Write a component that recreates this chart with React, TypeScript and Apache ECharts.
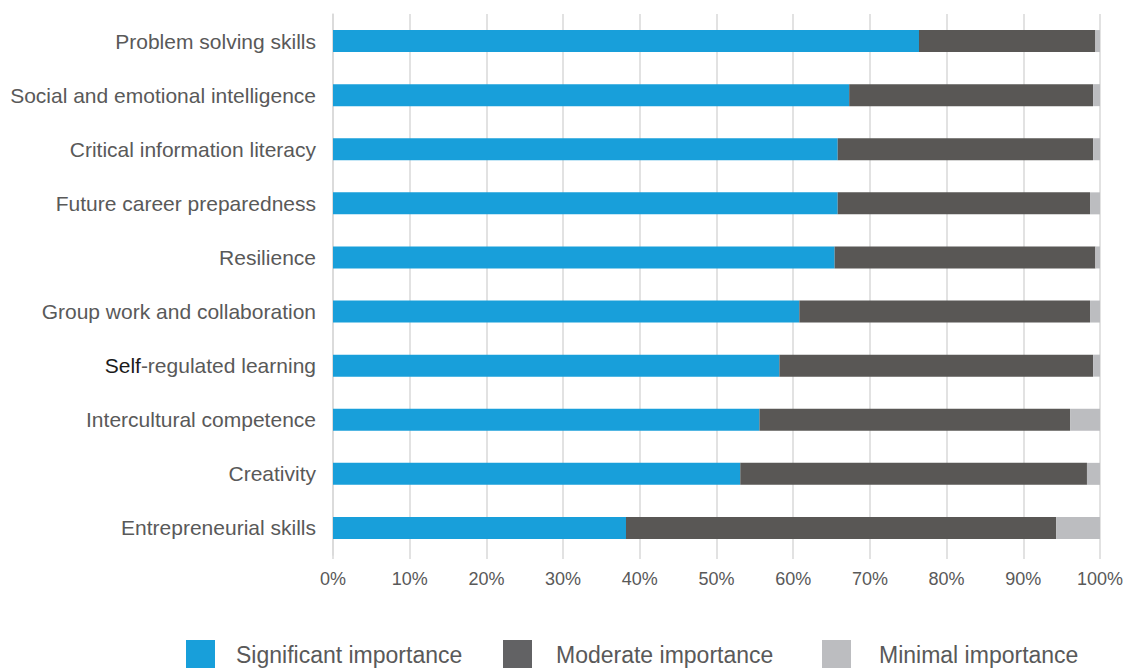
import React, { useEffect, useRef } from "react";
import * as echarts from "echarts";

const categories = [
  "Problem solving skills",
  "Social and emotional intelligence",
  "Critical information literacy",
  "Future career preparedness",
  "Resilience",
  "Group work and collaboration",
  "Self-regulated learning",
  "Intercultural competence",
  "Creativity",
  "Entrepreneurial skills",
];
const significant = [76.4, 67.3, 65.8, 65.8, 65.4, 60.8, 58.2, 55.6, 53.1, 38.2];
const moderate = [23.0, 31.8, 33.3, 32.9, 34.0, 37.9, 40.9, 40.5, 45.2, 56.1];
const minimal = [0.6, 0.9, 0.9, 1.3, 0.6, 1.3, 0.9, 3.9, 1.7, 5.7];
const seriesNames = ["Significant importance", "Moderate importance", "Minimal importance"];
const xTicks = { min: 0, max: 100, interval: 10 };

const FONT = "'Liberation Sans', Arial, sans-serif";

export default function App() {
  const ref = useRef<HTMLDivElement>(null);
  useEffect(() => {
    if (!ref.current) return;
    const chart = echarts.init(ref.current, undefined, { renderer: "svg" });
    const colors = ["#189fda", "#595755", "#bcbdc0"];
    const legendColors = ["#189fda", "#626264", "#bcbdc0"];
    const data = [significant, moderate, minimal];
    const legendLeft = [186, 503, 822];
    const legendPad = [16, 19, 23];
    chart.setOption({
      animation: false,
      textStyle: { fontFamily: FONT },
      grid: {
        left: 333,
        right: 28,
        top: 14,
        bottom: 113,
        containLabel: false,
        outerBoundsMode: "none",
      },
      xAxis: {
        type: "value",
        min: xTicks.min,
        max: xTicks.max,
        interval: xTicks.interval,
        axisLine: { show: false },
        axisTick: { show: true, length: 4, lineStyle: { color: "#d9d9d9", width: 1.5 } },
        splitLine: { show: true, lineStyle: { color: "#d9d9d9", width: 1.5 } },
        axisLabel: {
          formatter: "{value}%",
          color: "#595959",
          fontSize: 18,
          fontFamily: FONT,
          margin: 15,
        },
      },
      yAxis: {
        type: "category",
        data: categories,
        inverse: true,
        axisLine: { show: true, lineStyle: { color: "#d9d9d9", width: 1.5 } },
        axisTick: { show: false },
        splitLine: { show: false },
        axisLabel: {
          color: "#595959",
          fontSize: 21,
          fontFamily: FONT,
          margin: 17,
          formatter: (v: string) =>
            v.startsWith("Self-") ? "{k|Self}" + v.slice(4) : v,
          rich: {
            k: { color: "#1a1a1a", fontSize: 21, fontFamily: FONT },
          },
        },
      },
      legend: seriesNames.map((name, i) => ({
        left: legendLeft[i],
        top: 640,
        padding: 0,
        itemWidth: 29,
        itemHeight: 30,
        icon: "rect",
        itemStyle: { color: legendColors[i] },
        textStyle: {
          color: "#595959",
          fontSize: 23,
          fontFamily: FONT,
          padding: [0, 0, 0, legendPad[i]],
        },
        data: [name],
      })),
      series: seriesNames.map((name, i) => ({
        name,
        type: "bar",
        stack: "total",
        barWidth: 22,
        itemStyle: { color: colors[i] },
        data: data[i],
      })),
    });
    return () => chart.dispose();
  }, []);
  return <div ref={ref} style={{ width: 1128, height: 668, position: "absolute", left: 0, top: 0 }} />;
}
